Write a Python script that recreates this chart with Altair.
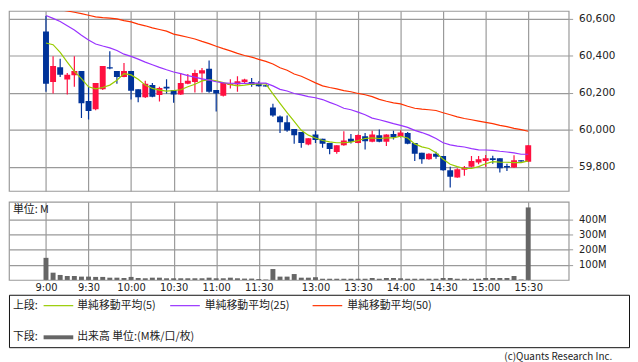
import altair as alt
import pandas as pd

# ---- data (5-minute bars, index 0 = 9:00 ... 68 = 15:30) ----
opens = [60530, 60258, 60338, 60271, 60294, 60317, 60155, 60111, 60219, 60338,
         60317, 60285, 60317, 60219, 60175, 60241, 60187, 60232, 60214, 60191,
         60249, 60258, 60303, 60329, 60214, 60184, 60241, 60244, 60258, 60258,
         60251, 60240, 60120, 60072, 60041, 60004, 59988, 59921, 59974, 59951,
         59929, 59880, 59916, 59951, 59929, 59965, 59935, 59970, 59935, 59977,
         59961, 59983, 59929, 59876, 59841, 59871, 59859, 59782, 59743, 59785,
         59800, 59823, 59832, 59846, 59846, 59804, 59796, 59835, 59828]
highs = [60614, 60397, 60383, 60306, 60397, 60317, 60232, 60253, 60344, 60424,
         60317, 60360, 60317, 60219, 60264, 60253, 60232, 60273, 60214, 60306,
         60301, 60324, 60333, 60374, 60214, 60253, 60273, 60289, 60276, 60280,
         60262, 60241, 60141, 60077, 60077, 60004, 59988, 59955, 59995, 59951,
         59929, 59916, 59992, 59977, 59974, 59983, 59995, 60001, 59976, 59995,
         59997, 59988, 59929, 59876, 59873, 59881, 59859, 59800, 59793, 59805,
         59859, 59859, 59864, 59860, 59846, 59817, 59862, 59836, 59918]
lows = [60205, 60196, 60285, 60191, 60232, 60063, 60056, 60106, 60214, 60327,
        60249, 60283, 60164, 60148, 60172, 60175, 60152, 60196, 60146, 60188,
        60246, 60201, 60201, 60200, 60098, 60180, 60223, 60205, 60249, 60232,
        60233, 60233, 60070, 59983, 59990, 59924, 59903, 59917, 59929, 59903,
        59868, 59871, 59914, 59926, 59927, 59894, 59933, 59933, 59912, 59947,
        59959, 59922, 59832, 59817, 59839, 59844, 59779, 59689, 59741, 59752,
        59798, 59814, 59800, 59817, 59769, 59778, 59794, 59828, 59826]
closes = [60249, 60344, 60297, 60297, 60317, 60143, 60102, 60253, 60344, 60330,
          60285, 60317, 60210, 60175, 60249, 60178, 60226, 60223, 60191, 60253,
          60264, 60306, 60321, 60205, 60196, 60253, 60249, 60262, 60271, 60241,
          60235, 60234, 60077, 60041, 59996, 59970, 59929, 59955, 59945, 59924,
          59897, 59916, 59942, 59935, 59972, 59938, 59974, 59935, 59974, 59960,
          59986, 59924, 59871, 59841, 59871, 59855, 59782, 59747, 59787, 59796,
          59832, 59841, 59846, 59837, 59793, 59796, 59836, 59829, 59917]
volumes = [146, 48, 33, 26, 26, 22, 22, 20, 20, 15,
           15, 13, 20, 13, 11, 15, 15, 11, 11, 11,
           11, 11, 11, 15, 11, 11, 15, 11, 9, 9,
           6, 3, 72, 22, 22, 39, 15, 15, 18, 8,
           8, 8, 8, 8, 8, 8, 13, 8, 13, 13,
           11, 8, 8, 8, 8, 8, 13, 13, 8, 8,
           8, 8, 13, 13, 13, 13, 26, 3, 479]
ma5 = [60468, 60459, 60418, 60365, 60315, 60276, 60232, 60221, 60228, 60241,
       60267, 60303, 60296, 60273, 60241, 60223, 60214, 60209, 60212, 60216,
       60232, 60246, 60264, 60271, 60264, 60255, 60244, 60237, 60241, 60246,
       60248, 60248, 60194, 60143, 60093, 60045, 59997, 59971, 59956, 59942,
       59935, 59930, 59930, 59933, 59942, 59953, 59956, 59953, 59956, 59956,
       59965, 59956, 59924, 59908, 59899, 59876, 59841, 59814, 59801, 59791,
       59791, 59801, 59817, 59828, 59826, 59825, 59823, 59823, 59832]
ma25 = [60617, 60601, 60584, 60561, 60538, 60510, 60484, 60463, 60452, 60442,
        60428, 60408, 60396, 60381, 60365, 60351, 60337, 60324, 60312, 60303,
        60292, 60284, 60275, 60268, 60259, 60253, 60251, 60250, 60250, 60251,
        60252, 60252, 60237, 60218, 60209, 60196, 60188, 60179, 60173, 60163,
        60148, 60134, 60116, 60108, 60095, 60081, 60063, 60054, 60044, 60033,
        60024, 60013, 59997, 59985, 59971, 59953, 59930, 59919, 59912, 59907,
        59898, 59892, 59891, 59889, 59884, 59880, 59875, 59868, 59868]
ma50 = [60653, 60652, 60648, 60641, 60634, 60627, 60618, 60609, 60605, 60602,
        60598, 60589, 60582, 60570, 60561, 60550, 60541, 60532, 60516, 60508,
        60499, 60490, 60477, 60465, 60451, 60438, 60426, 60412, 60401, 60392,
        60380, 60369, 60355, 60335, 60321, 60301, 60289, 60271, 60253, 60237,
        60228, 60221, 60211, 60205, 60196, 60189, 60179, 60164, 60154, 60145,
        60140, 60127, 60116, 60111, 60108, 60104, 60092, 60081, 60070, 60061,
        60054, 60047, 60040, 60033, 60024, 60017, 60008, 60001, 59992]

tick_pos = [0, 6, 12, 18, 24, 30, 38, 44, 50, 56, 62, 68]
tick_lab = ["9:00", "9:30", "10:00", "10:30", "11:00", "11:30",
            "13:00", "13:30", "14:00", "14:30", "15:00", "15:30"]
price_ticks = [59800, 60000, 60200, 60400, 60600]
vol_ticks = [100, 200, 300, 400]

df = pd.DataFrame({
    "i": list(range(len(opens))), "open": opens, "high": highs, "low": lows,
    "close": closes, "vol": volumes, "ma5": ma5, "ma25": ma25, "ma50": ma50,
})
df["dir"] = ["up" if c >= o else "down" for o, c in zip(opens, closes)]

RED, BLUE = "#ff1040", "#003399"
C5, C25, C50 = "#99cc00", "#9933ff", "#ff3300"
GRID = "#9a9a9a"
FONT = "DejaVu Sans"
CJK = "Noto Sans CJK JP"

label_expr = ("[" + ",".join(f"'{t}'" for t in tick_lab) + "][indexof(["
              + ",".join(str(p) for p in tick_pos) + "], datum.value)]")

xs = alt.Scale(domain=[-4.52, 73.01], nice=False, zero=False)
ys = alt.Scale(domain=[59670, 60641], nice=False, zero=False)
cs = alt.Scale(domain=["up", "down"], range=[RED, BLUE])

base = alt.Chart(df)
wick = base.mark_rule(strokeWidth=1.2, clip=True).encode(
    x=alt.X("i:Q", scale=xs, axis=alt.Axis(values=tick_pos, grid=True, labels=False,
                                           ticks=False, domain=False, title=None)),
    y=alt.Y("low:Q", scale=ys, axis=alt.Axis(orient="right", values=price_ticks, format=",d",
                                             grid=True, tickSize=4, labelPadding=6,
                                             labelFontSize=10.5, domain=False, title=None)),
    y2="high:Q",
    color=alt.Color("dir:N", scale=cs, legend=None),
)
body = base.mark_bar(width=6, clip=True).encode(
    x="i:Q", y="open:Q", y2="close:Q",
    color=alt.Color("dir:N", scale=cs, legend=None),
)
l5 = base.mark_line(color=C5, strokeWidth=1.2, clip=True).encode(x="i:Q", y="ma5:Q")
l25 = base.mark_line(color=C25, strokeWidth=1.2, clip=True).encode(x="i:Q", y="ma25:Q")
l50 = base.mark_line(color=C50, strokeWidth=1.2, clip=True).encode(x="i:Q", y="ma50:Q")
top = alt.layer(wick, body, l5, l25, l50).properties(width=566, height=182)

volbars = base.mark_bar(width=5, color="#666666").encode(
    x=alt.X("i:Q", scale=xs, axis=alt.Axis(values=tick_pos, labelExpr=label_expr, grid=True,
                                           ticks=False, domain=False, title=None,
                                           labelFontSize=10, labelPadding=3,
                                           labelOverlap=False, labelFlush=False)),
    y=alt.Y("vol:Q", scale=alt.Scale(domain=[0, 516], nice=False),
            axis=alt.Axis(orient="right", values=vol_ticks, labelExpr="datum.value + 'M'",
                          grid=True, tickSize=4, labelPadding=6, labelFontSize=10,
                          domain=False, title=None)),
)
one = pd.DataFrame({"k": [0]})
unit = alt.Chart(one).mark_text(text="単位: M", align="left", baseline="middle",
                                fontSize=11, font=CJK, color="#222").encode(
    x=alt.value(4), y=alt.value(8))
vol = alt.layer(volbars, unit).properties(width=566, height=79)

lg = alt.Chart(one)
def ltext(t, x, y, size=11, align="left"):
    return lg.mark_text(text=t, align=align, baseline="middle", fontSize=size,
                        font=CJK, color="#222").encode(x=alt.value(x), y=alt.value(y))
def lrule(c, x, y, w):
    return lg.mark_rule(color=c, strokeWidth=w).encode(
        x=alt.value(x), x2=alt.value(x + 30), y=alt.value(y))

legend = alt.layer(
    ltext("上段:", 4, 11), lrule(C5, 35, 11, 1.2), ltext("単純移動平均(5)", 69, 11),
    lrule(C25, 163, 11, 1.2), ltext("単純移動平均(25)", 198, 11),
    lrule(C50, 307, 11, 1.2), ltext("単純移動平均(50)", 342, 11),
    ltext("下段:", 4, 43), lrule("#666666", 35, 43, 4), ltext("出来高 単位:(M株/口/枚)", 69, 43),
    ltext("(c)Quants Research Inc.", 610, 63, size=10, align="right"),
).properties(width=627, height=53, view=alt.ViewBackground(stroke="#111", strokeWidth=1))

chart = alt.vconcat(alt.vconcat(top, vol, spacing=9), legend, spacing=0).properties(
    padding=0
).configure_view(stroke=GRID, strokeWidth=1.2).configure_axis(
    labelFont=FONT, labelColor="#222", gridColor=GRID, gridWidth=1.2, tickColor=GRID
)

chart.save("out.html", embed_options={"renderer": "svg", "actions": False})
